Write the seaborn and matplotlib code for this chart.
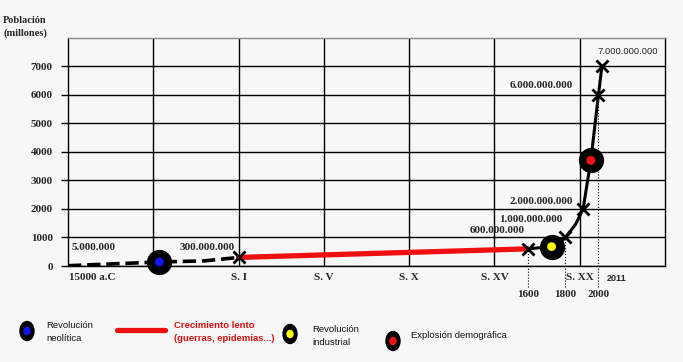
import matplotlib

matplotlib.use("Agg")
import matplotlib.pyplot as plt
from matplotlib.patches import Ellipse
import seaborn as sns

# population in millions, x = position on the (non linear) time axis
y_ticks = [0, 1000, 2000, 3000, 4000, 5000, 6000, 7000]
era_labels = ["15000 a.C", "S. I", "S. V", "S. X", "S. XV", "S. XX"]
era_pos = [0.28, 2, 3, 4, 5, 6]
year_labels = ["1600", "1800", "2000"]
year_pos = [5.39, 5.83, 6.22]
year_pop = [600, 1000, 6000]

neolithic_x = [0, 0.9, 1.07, 1.6, 2.0]
neolithic_pop = [10, 120, 140, 180, 300]
slow_x = [2.0, 5.39]
slow_pop = [300, 600]
fast_x = [5.39, 5.67, 5.83, 5.95, 6.04, 6.13, 6.22, 6.26]
fast_pop = [600, 680, 1000, 1450, 2000, 3700, 6000, 7000]

cross_x = [2.0, 5.39, 5.83, 6.04, 6.22, 6.26]
cross_pop = [300, 600, 1000, 2000, 6000, 7000]

event_x = [1.07, 5.67, 6.13]
event_pop = [140, 680, 3700]
event_colors = ["#1414ff", "#ffff00", "#ff1010"]

value_labels = ["5.000.000", "300.000.000", "600.000.000", "1.000.000.000",
                "2.000.000.000", "6.000.000.000", "7.000.000.000"]
value_x = [0, 2.0, 5.39, 5.83, 6.04, 6.22, 6.26]
value_pop = [5, 300, 600, 1000, 2000, 6000, 7000]
# text offsets (pixels) and alignment for each value label
value_offsets = [(4, 18, "left"), (-4, 10, "right"), (-3, 18, "right"), (-3, 18, "right"),
                 (-10, 7, "right"), (-26, 9, "right"), (-4, 15, "left")]

legend_labels = ["Revolución\nneolítica", "Crecimiento lento\n(guerras, epidemias...)",
                 "Revolución\nindustrial", "Explosión demográfica"]

BG = "#f7f7f7"
SERIF = "Liberation Serif"
SANS = "Liberation Sans"

sns.set_style("white")

fig = plt.figure(figsize=(6.83, 3.62), dpi=100, facecolor=BG)
ax = fig.add_axes([68 / 683, 96 / 362, 597 / 683, 228.3 / 362], facecolor=BG)

ax.set_xlim(0, 7)
ax.set_ylim(0, 8000)

# grid
ax.xaxis.remove_overlapping_locs = False
ax.set_yticks(y_ticks)
ax.set_yticklabels([str(v) for v in y_ticks], family=SERIF, weight="bold", fontsize=8)
ax.set_xticks(era_pos)
ax.set_xticklabels(era_labels, family=SERIF, weight="bold", fontsize=8)
ax.set_xticks(range(1, 7), minor=True)
ax.grid(which="major", axis="y", color="black", linewidth=1)
ax.grid(which="minor", axis="x", color="black", linewidth=1)
ax.grid(which="major", axis="x", visible=False)
ax.tick_params(axis="y", which="major", length=5, width=1, color="black", pad=6, left=True)
ax.tick_params(axis="x", which="both", length=0, pad=5)
for side in ["left", "bottom", "right"]:
    ax.spines[side].set_color("black")
    ax.spines[side].set_linewidth(1)
ax.spines["top"].set_color("#8a8a8a")
ax.spines["top"].set_linewidth(1)

# dotted year guides
ax.vlines(year_pos, -740, year_pop, colors="black", linestyles=":", linewidth=0.8,
          clip_on=False, zorder=2)
for lab, xp in zip(year_labels, year_pos):
    ax.text(xp, -1000, lab, ha="center", va="center", family=SERIF, weight="bold",
            fontsize=8, clip_on=False)
ax.text(6.43, -430, "2011", ha="center", va="center", family=SANS, weight="bold",
        fontsize=6.5, clip_on=False)

# curves
sns.lineplot(x=neolithic_x, y=neolithic_pop, ax=ax, color="black", linewidth=2.6,
             linestyle="--", dashes=(2.4, 1.1), sort=False, zorder=3)
sns.lineplot(x=slow_x, y=slow_pop, ax=ax, color="#ee1010", linewidth=3.8, sort=False, zorder=3)
sns.lineplot(x=fast_x, y=fast_pop, ax=ax, color="black", linewidth=2.2, sort=False, zorder=3)
sns.scatterplot(x=cross_x, y=cross_pop, ax=ax, marker="x", s=75, color="black",
                linewidth=2, zorder=4, clip_on=False)

# events: black disc with coloured centre
sns.scatterplot(x=event_x, y=event_pop, ax=ax, s=330, color="black", linewidth=0,
                zorder=5, clip_on=False)
sns.scatterplot(x=event_x, y=event_pop, ax=ax, s=40, c=event_colors, linewidth=0,
                zorder=6, clip_on=False)

for lab, xv, yv, (dx, dy, ha) in zip(value_labels, value_x, value_pop, value_offsets):
    last = lab == value_labels[-1]
    ax.annotate(lab, (xv, yv), xytext=(dx, dy), textcoords="offset pixels",
                ha=ha, va="center", family=SANS if last else SERIF,
                weight="normal" if last else "bold", fontsize=6.8 if last else 8,
                annotation_clip=False, zorder=7)

# overlay in pixel units for the axis title and the legend
ov = fig.add_axes([0, 0, 1, 1])
ov.set_xlim(0, 683)
ov.set_ylim(362, 0)
ov.axis("off")
ov.text(3, 27, "Población\n(millones)", ha="left", va="center", family=SERIF,
        weight="bold", fontsize=7.5, linespacing=1.55)

keys = [(27, 331, event_colors[0]), (290, 334, event_colors[1]), (393, 341, event_colors[2])]
for cx, cy, col in keys:
    ov.add_patch(Ellipse((cx, cy), 14, 19, color="black"))
    ov.add_patch(Ellipse((cx, cy), 6, 7, color=col))
ov.plot([117, 165], [330, 330], color="#ee1010", linewidth=3.8, solid_capstyle="round")

text_pos = [(46, 332, "#111111"), (174, 332, "#d81010"), (312, 336, "#111111"),
            (411, 335, "#111111")]
for lab, (tx, ty, col) in zip(legend_labels, text_pos):
    ov.text(tx, ty, lab, ha="left", va="center", family=SANS, fontsize=6.8,
            color=col, linespacing=1.6, weight="bold" if col != "#111111" else "normal")

fig.savefig("out.png", dpi=100, facecolor=BG)
